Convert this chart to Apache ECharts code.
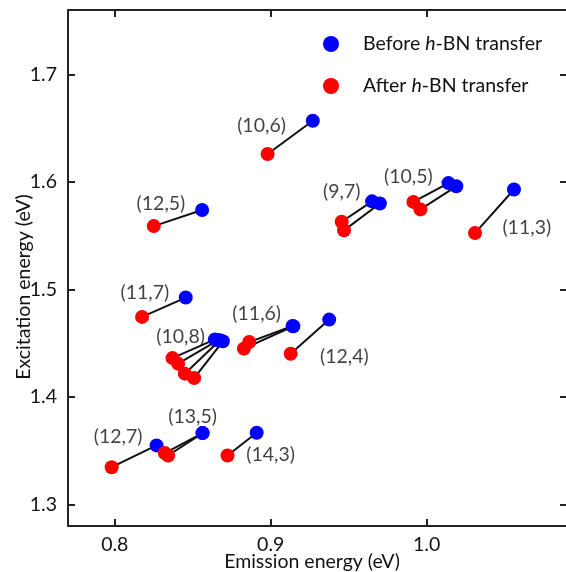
<!DOCTYPE html>
<html><head><meta charset="utf-8">
<script src="https://cdn.jsdelivr.net/npm/echarts@6/dist/echarts.min.js"></script>
<style>html,body{margin:0;padding:0;background:#fff}#c{width:566px;height:572px}</style>
</head><body><div id="c"></div>
<script>
// Tick values
const xTicks = [0.8, 0.9, 1.0];
const yTicks = [1.3, 1.4, 1.5, 1.6, 1.7];

// Before h-BN transfer (emission, excitation), index-aligned with afterPts
const beforePts = [
  [0.927, 1.657],   // (10,6)
  [0.856, 1.574],   // (12,5)
  [0.965, 1.582],   // (9,7)
  [0.970, 1.580],   // (9,7)
  [1.014, 1.599],   // (10,5)
  [1.019, 1.596],   // (10,5)
  [1.056, 1.593],   // (11,3)
  [0.8455, 1.4925], // (11,7)
  [0.8642, 1.4536], // (10,8)
  [0.8661, 1.4527], // (10,8)
  [0.8674, 1.4527], // (10,8)
  [0.8693, 1.4518], // (10,8)
  [0.914, 1.466],   // (11,6)
  [0.9145, 1.4658], // (11,6)
  [0.9375, 1.472],  // (12,4)
  [0.8268, 1.355],  // (12,7)
  [0.8563, 1.3664], // (13,5)
  [0.8563, 1.3664], // (13,5)
  [0.891, 1.3668]   // (14,3)
];
// After h-BN transfer
const afterPts = [
  [0.898, 1.626],
  [0.825, 1.559],
  [0.9455, 1.563],
  [0.947, 1.555],
  [0.9915, 1.5815],
  [0.996, 1.5745],
  [1.031, 1.5525],
  [0.8175, 1.4745],
  [0.837, 1.4362],
  [0.8406, 1.431],
  [0.8449, 1.4217],
  [0.8509, 1.4176],
  [0.8862, 1.4511],
  [0.8828, 1.445],
  [0.9128, 1.4403],
  [0.798, 1.3347],
  [0.8321, 1.3478],
  [0.8342, 1.3456],
  [0.8723, 1.3456]
];

// Chirality annotations (text, anchored in data coordinates)
const labelText = ['(10,6)', '(12,5)', '(9,7)', '(10,5)', '(11,3)', '(11,7)', '(10,8)', '(11,6)', '(12,4)', '(12,7)', '(13,5)', '(14,3)'];
const labelPos = [
  [0.8941, 1.652], [0.8296, 1.580], [0.9455, 1.5906], [0.9883, 1.6048], [1.0642, 1.5573],
  [0.8193, 1.497], [0.8422, 1.4558], [0.891, 1.4776], [0.9472, 1.4378],
  [0.8021, 1.3627], [0.8499, 1.3813], [0.8999, 1.3466]
];

const FONT = 'Lato';
const TXT = '#111';
const axisLineStyle = { color: '#222', width: 2 };

const chart = echarts.init(document.getElementById('c'), null, { renderer: 'canvas' });

const baseX = { type: 'value', min: 0.77, max: 1.09, splitLine: { show: false } };
const baseY = { type: 'value', min: 1.28, max: 1.76, splitLine: { show: false } };

chart.setOption({
  animation: false,
  backgroundColor: '#fff',
  grid: { left: 68, top: 10, width: 499, height: 516, containLabel: false, outerBoundsMode: 'none' },
  legend: {
    orient: 'vertical',
    left: 323,
    top: 34,
    padding: 0,
    itemWidth: 16,
    itemHeight: 16,
    itemGap: 22,
    icon: 'circle',
    data: ['Before h-BN transfer', 'After h-BN transfer'],
    formatter: function (n) {
      return n.startsWith('Before') ? '{n|Before }{i|h}{n|-BN transfer}' : '{n|After }{i|h}{n|-BN transfer}';
    },
    textStyle: {
      padding: [0, 0, 0, 19],
      rich: {
        n: { fontFamily: FONT, fontSize: 19.5, color: TXT },
        i: { fontFamily: FONT, fontSize: 19.5, color: TXT, fontStyle: 'italic' }
      }
    }
  },
  xAxis: [
    Object.assign({}, baseX, {
      position: 'bottom',
      name: 'Emission energy (eV)',
      nameLocation: 'middle',
      nameGap: 26,
      nameMoveOverlap: false,
      nameTextStyle: { fontFamily: FONT, fontSize: 19.5, color: TXT, padding: [0, 11, 0, 0] },
      axisLine: { show: true, lineStyle: axisLineStyle },
      axisTick: { show: true, inside: true, length: 7, lineStyle: axisLineStyle, customValues: xTicks },
      axisLabel: { show: true, fontFamily: FONT, fontSize: 19.5, color: TXT, margin: 9, customValues: xTicks,
        formatter: v => v.toFixed(1) }
    }),
    Object.assign({}, baseX, {
      position: 'top',
      axisLine: { show: true, onZero: false, lineStyle: axisLineStyle },
      axisTick: { show: true, inside: true, length: 7, lineStyle: axisLineStyle, customValues: xTicks },
      axisLabel: { show: false }
    })
  ],
  yAxis: [
    Object.assign({}, baseY, {
      position: 'left',
      name: 'Excitation energy (eV)',
      nameLocation: 'middle',
      nameGap: 34,
      nameMoveOverlap: false,
      nameRotate: 90,
      nameTextStyle: { fontFamily: FONT, fontSize: 19.5, color: TXT, padding: [0, 38, 0, 0] },
      axisLine: { show: true, lineStyle: axisLineStyle },
      axisTick: { show: true, inside: true, length: 7, lineStyle: axisLineStyle, customValues: yTicks },
      axisLabel: { show: true, fontFamily: FONT, fontSize: 19.5, color: TXT, margin: 11, customValues: yTicks,
        formatter: v => v.toFixed(1) }
    }),
    Object.assign({}, baseY, {
      position: 'right',
      axisLine: { show: true, onZero: false, lineStyle: axisLineStyle },
      axisTick: { show: true, inside: true, length: 7, lineStyle: axisLineStyle, customValues: yTicks },
      axisLabel: { show: false }
    })
  ],
  series: [
    {
      type: 'lines',
      coordinateSystem: 'cartesian2d',
      silent: true,
      z: 1,
      lineStyle: { color: '#111', width: 2, opacity: 1 },
      data: beforePts.map((b, i) => ({ coords: [b, afterPts[i]] }))
    },
    {
      name: 'Before h-BN transfer',
      type: 'scatter',
      z: 2,
      symbol: 'circle',
      symbolSize: 14,
      itemStyle: { color: '#0000ff', opacity: 1 },
      data: beforePts
    },
    {
      name: 'After h-BN transfer',
      type: 'scatter',
      z: 3,
      symbol: 'circle',
      symbolSize: 14,
      itemStyle: { color: '#ff0000', opacity: 1 },
      data: afterPts
    },
    {
      type: 'scatter',
      z: 4,
      silent: true,
      symbolSize: 0,
      label: {
        show: true,
        position: 'inside',
        fontFamily: FONT,
        fontSize: 19.5,
        color: TXT,
        formatter: p => p.name
      },
      data: labelPos.map((p, i) => ({ name: labelText[i], value: p }))
    }
  ]
});
</script>
</body></html>
